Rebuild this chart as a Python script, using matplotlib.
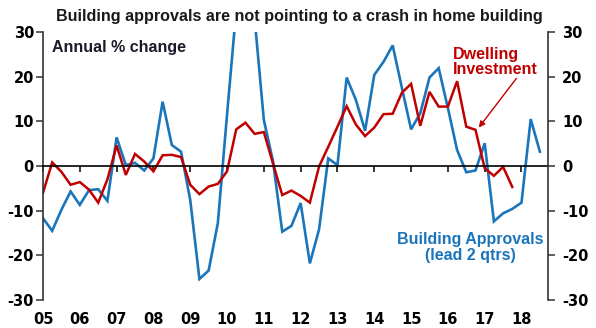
import numpy as np
import matplotlib
matplotlib.use("Agg")
import matplotlib.pyplot as plt

plt.rcParams["axes.unicode_minus"] = False

# quarterly data, first point = 2005 Q1
start_year = 2005
dwelling_investment = [
    -6.0, 0.8, -1.3, -4.2,
    -3.6, -5.3, -8.2, -3.0,
    4.6, -2.0, 2.7, 1.0,
    -1.2, 2.4, 2.5, 2.0,
    -4.2, -6.3, -4.6, -4.0,
    -1.2, 8.2, 9.7, 7.2,
    7.6, 0.5, -6.5, -5.5,
    -6.7, -8.2, -0.1, 4.3,
    8.8, 13.4, 9.3, 6.7,
    8.6, 11.6, 11.7, 16.4,
    18.4, 9.0, 16.6, 13.3,
    13.3, 19.0, 8.8, 8.1,
    -0.5, -2.2, -0.2, -4.7,
]
building_approvals = [
    -11.7, -14.5, -9.8, -5.7,
    -8.7, -5.4, -5.2, -7.8,
    6.4, 0.2, 0.7, -1.0,
    1.7, 14.4, 4.7, 3.2,
    -7.6, -25.3, -23.4, -12.8,
    11.5, 35.0, 40.0, 33.0,
    10.3, 1.0, -14.7, -13.4,
    -8.3, -21.8, -14.2, 1.7,
    0.2, 19.8, 14.8, 7.9,
    20.4, 23.3, 27.0, 17.5,
    8.2, 11.8, 19.8, 21.9,
    13.0, 3.6, -1.4, -1.0,
    5.1, -12.4, -10.6, -9.6,
    -8.2, 10.5, 3.2,
]
year_ticks = list(range(2005, 2019))
year_labels = [f"{y % 100:02d}" for y in year_ticks]
y_ticks = [-30, -20, -10, 0, 10, 20, 30]

red = "#C00000"
blue = "#1B75BB"
txt_font = "Liberation Sans"
tick_font = "DejaVu Sans"

x_di = start_year + np.arange(len(dwelling_investment)) * 0.25
x_ba = start_year + np.arange(len(building_approvals)) * 0.25

fig = plt.figure(figsize=(5.96, 3.28), dpi=100)
ax = fig.add_axes([43 / 596, 1 - 300 / 328, (548 - 43) / 596, (300 - 32) / 328])

ax.plot(x_ba, building_approvals, color=blue, lw=1.9, solid_joinstyle="miter")
ax.plot(x_di, dwelling_investment, color=red, lw=1.8, solid_joinstyle="miter")

ax.set_xlim(2005, 2018.72)
ax.set_ylim(-30, 30)

# spines
for s in ["top", "right"]:
    ax.spines[s].set_visible(False)
ax.spines["left"].set_color("#333333")
ax.spines["left"].set_linewidth(1.2)
ax.spines["bottom"].set_position(("data", 0))
ax.spines["bottom"].set_color("black")
ax.spines["bottom"].set_linewidth(1.2)

ax.set_xticks(year_ticks)
ax.tick_params(axis="x", direction="out", length=4.5, width=1.1, labelbottom=False)
ax.set_yticks(y_ticks)
ax.tick_params(axis="y", direction="out", length=5, width=1.1, pad=1.5,
               colors="#333333", labelcolor="black")
for lab in ax.get_yticklabels():
    lab.set_fontfamily(tick_font)
    lab.set_fontweight("bold")
    lab.set_fontsize(10.5)

# year labels along the bottom
sec = ax.secondary_xaxis("bottom")
sec.set_xticks(year_ticks, year_labels)
sec.tick_params(length=0, pad=8.5)
sec.spines["bottom"].set_visible(False)
for lab in sec.get_xticklabels():
    lab.set_fontfamily(tick_font)
    lab.set_fontweight("bold")
    lab.set_fontsize(10.5)

# right axis
ax2 = ax.twinx()
ax2.set_ylim(-30, 30)
ax2.set_yticks(y_ticks)
for s in ["top", "left", "bottom"]:
    ax2.spines[s].set_visible(False)
ax2.spines["right"].set_color("#333333")
ax2.spines["right"].set_linewidth(1.2)
ax2.tick_params(axis="y", direction="out", length=5, width=1.1, pad=5,
                colors="#333333", labelcolor="black")
for lab in ax2.get_yticklabels():
    lab.set_fontfamily(tick_font)
    lab.set_fontweight("bold")
    lab.set_fontsize(10.5)

fig.text(0.503, 1 - 17 / 328, "Building approvals are not pointing to a crash in home building",
         ha="center", va="center", fontsize=11.6, fontweight="bold", family=txt_font,
         color="#1a1a1a")

ax.text(2005.24, 28.3, "Annual % change", ha="left", va="top", fontsize=11.5,
        fontweight="bold", family=txt_font, color="#1a1a2a")
ax.text(2016.14, 26.7, "Dwelling\nInvestment", ha="left", va="top", fontsize=11.5,
        fontweight="bold", family=txt_font, color=red, linespacing=1.05)
ax.text(2016.62, -14.8, "Building Approvals\n(lead 2 qtrs)", ha="center", va="top",
        fontsize=11.5, fontweight="bold", family=txt_font, color=blue, linespacing=1.05)
ax.annotate("", xy=(2016.84, 8.6), xytext=(2017.86, 19.6),
            arrowprops=dict(arrowstyle="-|>", color=red, lw=1.0,
                            mutation_scale=9, shrinkA=0, shrinkB=0))

fig.savefig("out.png", dpi=100)
